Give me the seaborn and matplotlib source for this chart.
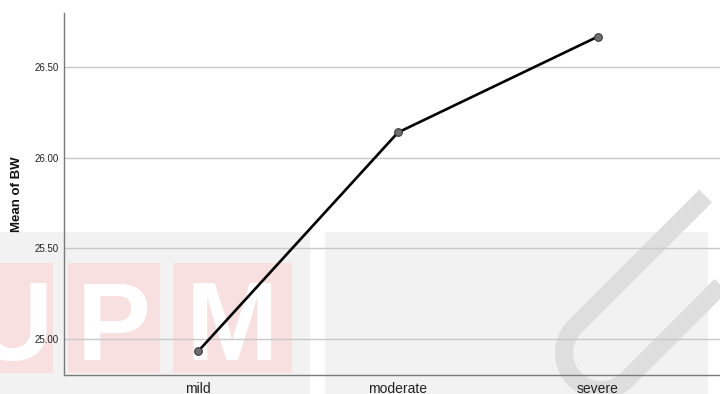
import numpy as np
import pandas as pd
import matplotlib
matplotlib.use("Agg")
import matplotlib.pyplot as plt
import seaborn as sns
from matplotlib.patches import Rectangle
from matplotlib.lines import Line2D

# Mean birth weight by severity group
severity = ["mild", "moderate", "severe"]
mean_bw = [24.93, 26.14, 26.67]
y_ticks = [25.00, 25.50, 26.00, 26.50]

sns.set_theme(style="white")
plt.rcParams["font.family"] = ["Liberation Sans", "DejaVu Sans"]

W, H = 720, 394
fig = plt.figure(figsize=(W / 100, H / 100), dpi=100)
fig.patch.set_facecolor("white")


def rect_px(x0, y0, x1, y1, color, z=-6):
    """Rectangle given in pixel coordinates (origin top-left)."""
    return Rectangle((x0 / W, 1 - y1 / H), (x1 - x0) / W, (y1 - y0) / H,
                     transform=fig.transFigure, facecolor=color,
                     edgecolor="none", zorder=z)


# Background page watermark
fig.patches.extend([
    rect_px(0, 232, 310, 394, "#f2f2f2"),
    rect_px(325, 232, 708, 394, "#f2f2f2"),
    rect_px(0, 263, 53, 373, "#f8e0e1", -5),
    rect_px(68, 263, 160, 373, "#f8e0e1", -5),
    rect_px(173, 263, 292, 373, "#f8e0e1", -5),
])
for ch, cx in [("U", 12), ("P", 114), ("M", 232)]:
    fig.text(cx / W, 1 - 360 / H, ch, ha="center", va="baseline",
             fontsize=80, fontweight="bold", color="white", zorder=-4)

# Large rotated "U" stroke
half_w, arm1, arm2 = 37, 185, 260
pts = [(-half_w, arm1), (-half_w, 0)]
for a in np.linspace(np.pi, 2 * np.pi, 40):
    pts.append((half_w * np.cos(a), half_w * np.sin(a)))
pts += [(half_w, 0), (half_w, arm2)]
pts = np.array(pts)
ang = -np.pi / 4
rot = np.array([[np.cos(ang), -np.sin(ang)], [np.sin(ang), np.cos(ang)]])
pr = pts @ rot.T
ix = 601 + pr[:, 0]
iy = 353 - pr[:, 1]
fig.add_artist(Line2D(ix / W, 1 - iy / H, transform=fig.transFigure,
                      color="#dedede", lw=13, solid_capstyle="butt",
                      solid_joinstyle="round", zorder=-4))

# Plot area
ax = fig.add_axes([64 / W, (H - 375) / H, (W - 64) / W, (375 - 13) / H])
ax.set_facecolor("none")

sns.lineplot(x=severity, y=mean_bw, ax=ax, color="black", lw=1.9,
             marker="o", markersize=5.5, markerfacecolor="#6e6e6e",
             markeredgecolor="#3a3a3a", markeredgewidth=0.8, sort=False)

ax.set_xlim(-0.67, 2.61)
ax.set_ylim(24.8, 26.8)
ax.set_yticks(y_ticks)
ax.set_yticklabels([f"{v:.2f}" for v in y_ticks], fontsize=7, color="#222222")
ax.tick_params(axis="x", labelsize=10, colors="#222222", length=0, pad=5)
ax.tick_params(axis="y", length=0, pad=4)
ax.yaxis.grid(True, color="#c8c8c8", lw=1)
ax.xaxis.grid(False)
ax.set_axisbelow(True)

for side in ["top", "right"]:
    ax.spines[side].set_visible(False)
for side in ["left", "bottom"]:
    ax.spines[side].set_color("#7a7a7a")
    ax.spines[side].set_linewidth(1)

ax.set_xlabel("")
ax.set_ylabel("Mean of BW", fontsize=9.5, fontweight="bold", color="#111111")
ax.yaxis.set_label_coords(-0.063, 0.5)

fig.savefig("out.png", dpi=100)
